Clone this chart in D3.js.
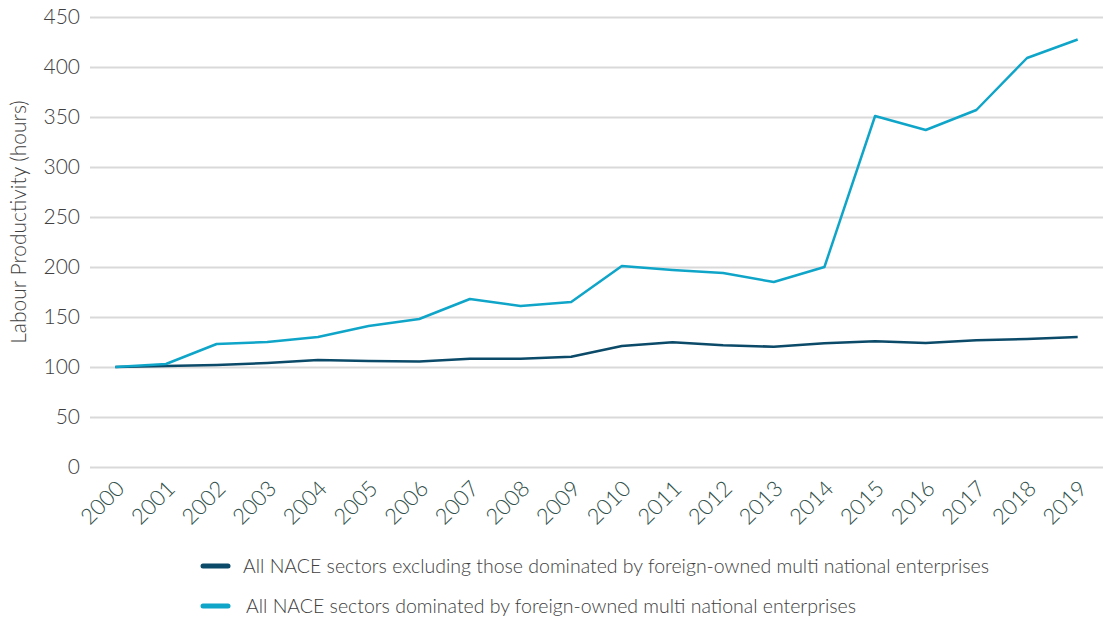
<!DOCTYPE html>
<html>
<head>
<meta charset="utf-8">
<script src="https://cdn.jsdelivr.net/npm/d3@7"></script>
<style>
  body { margin: 0; background: #fff; }
  svg { font-family: Lato, "Open Sans", sans-serif; font-weight: 300; }
</style>
</head>
<body>
<div id="chart"></div>
<script>
// labour productivity index, 2000 = 100
var years = ["2000","2001","2002","2003","2004","2005","2006","2007","2008","2009",
             "2010","2011","2012","2013","2014","2015","2016","2017","2018","2019"];
var excludingMNE = [100, 101, 102, 104, 107, 106, 105.5, 108.3, 108.3, 110.3,
                    121, 124.7, 121.7, 120.3, 123.7, 125.8, 124, 126.8, 128, 130];
var dominatedMNE = [100, 103, 123, 125, 130, 141, 148, 168, 161, 165,
                    201, 197, 194, 185, 200, 351, 337, 357, 409, 427.5];
var seriesNames = [
  "All NACE sectors excluding those dominated by foreign-owned multi national enterprises",
  "All NACE sectors dominated by foreign-owned multi national enterprises"
];
var yTicks = [0, 50, 100, 150, 200, 250, 300, 350, 400, 450];

var W = 1103, H = 617;
var margin = {top: 17, right: 0, bottom: 150, left: 90};
var colors = ["#0b4a68", "#0fa5c9"];

var svg = d3.select("#chart").append("svg")
  .attr("width", W)
  .attr("height", H);

var x = d3.scalePoint()
  .domain(years)
  .range([margin.left, W - margin.right])
  .padding(0.5);

var y = d3.scaleLinear()
  .domain([0, 450])
  .range([H - margin.bottom, margin.top]);

// gridlines + y labels
var yAxis = svg.append("g")
  .attr("transform", "translate(" + margin.left + ",0)")
  .call(d3.axisLeft(y).tickValues(yTicks).tickSize(-(W - margin.left - margin.right)).tickPadding(10));
yAxis.select(".domain").remove();
yAxis.selectAll(".tick line").attr("stroke", "#d9d9d9").attr("stroke-width", 2);
yAxis.selectAll(".tick text")
  .attr("fill", "#404040")
  .style("font-size", "21px")
  .style("font-family", "Lato, sans-serif")
  .style("font-weight", 300);

// x labels, rotated
var xAxis = svg.append("g")
  .attr("transform", "translate(0," + (H - margin.bottom) + ")")
  .call(d3.axisBottom(x).tickSize(0).tickPadding(0));
xAxis.select(".domain").remove();
xAxis.selectAll(".tick text")
  .attr("fill", "#2f4f4a")
  .style("font-size", "22px")
  .style("font-family", "Lato, sans-serif")
  .style("font-weight", 300)
  .attr("text-anchor", "end")
  .attr("dy", null)
  .attr("transform", "translate(10,23) rotate(-45)");

// y axis title
svg.append("text")
  .attr("transform", "translate(26," + 222 + ") rotate(-90)")
  .attr("text-anchor", "middle")
  .attr("fill", "#404040")
  .style("font-size", "21px")
  .text("Labour Productivity (hours)");

var line = d3.line()
  .x(function(d, i) { return x(years[i]); })
  .y(function(d) { return y(d); });

[excludingMNE, dominatedMNE].forEach(function(s, i) {
  svg.append("path")
    .datum(s)
    .attr("fill", "none")
    .attr("stroke", colors[i])
    .attr("stroke-width", 2.5)
    .attr("stroke-linejoin", "round")
    .attr("d", line);
});

// legend
var legend = svg.append("g");
seriesNames.forEach(function(name, i) {
  var ly = 566 + i * 40;
  legend.append("line")
    .attr("x1", 203).attr("x2", 228)
    .attr("y1", ly).attr("y2", ly)
    .attr("stroke", colors[i])
    .attr("stroke-width", 5)
    .attr("stroke-linecap", "round");
  legend.append("text")
    .attr("x", 243 + i * 3)
    .attr("y", ly)
    .attr("dy", "0.35em")
    .attr("fill", "#404040")
    .style("font-size", "19.5px")
    .text(name);
});
</script>
</body>
</html>
